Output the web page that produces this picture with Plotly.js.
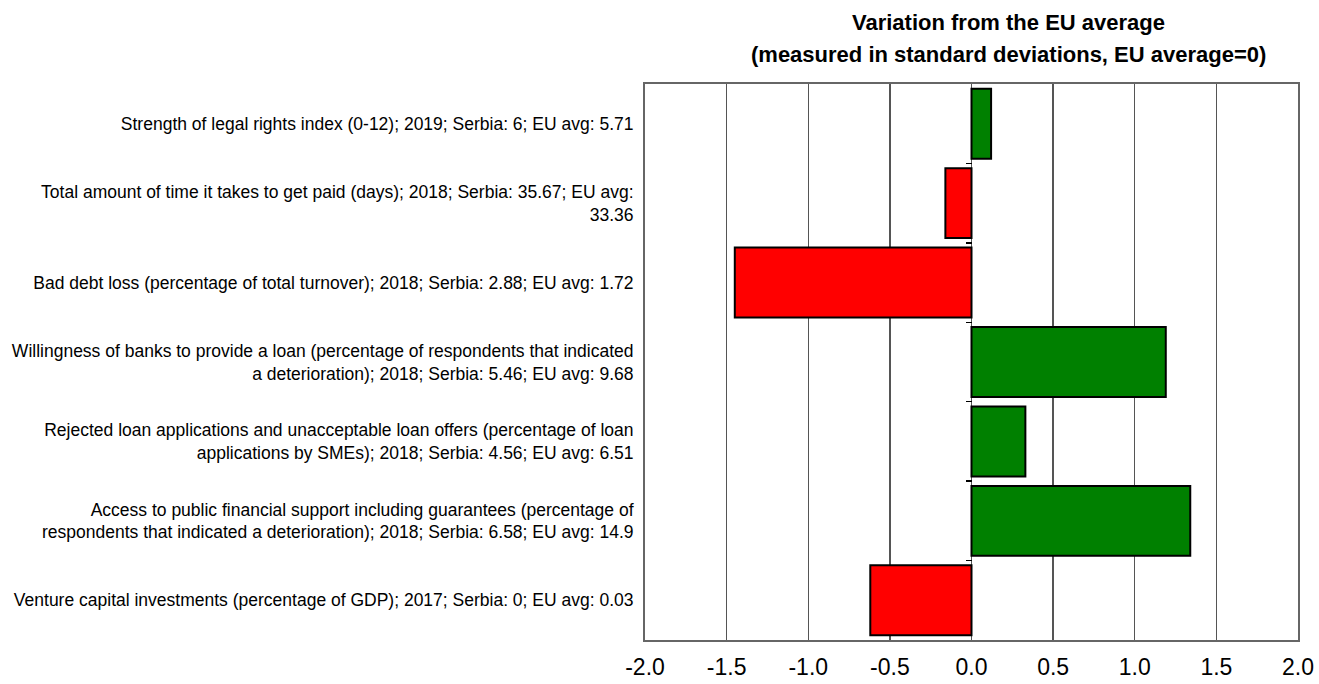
<!DOCTYPE html>
<html>
<head>
<meta charset="utf-8">
<script src="https://cdn.plot.ly/plotly-3.0.1.min.js"></script>
<style>
  html, body { margin: 0; padding: 0; background: #ffffff; }
  #chart { width: 1319px; height: 684px; }
</style>
</head>
<body>
<div id="chart"></div>
<script>
// ---- Data ----
const titleLines = [
  "Variation from the EU average",
  "(measured in standard deviations, EU average=0)"
];
const indicators = [
  "Strength of legal rights index (0-12); 2019; Serbia: 6; EU avg: 5.71",
  "Total amount of time it takes to get paid (days); 2018; Serbia: 35.67; EU avg:<br>33.36",
  "Bad debt loss (percentage of total turnover); 2018; Serbia: 2.88; EU avg: 1.72",
  "Willingness of banks to provide a loan (percentage of respondents that indicated<br>a deterioration); 2018; Serbia: 5.46; EU avg: 9.68",
  "Rejected loan applications and unacceptable loan offers (percentage of loan<br>applications by SMEs); 2018; Serbia: 4.56; EU avg: 6.51",
  "Access to public financial support including guarantees (percentage of<br>respondents that indicated a deterioration); 2018; Serbia: 6.58; EU avg: 14.9",
  "Venture capital investments (percentage of GDP); 2017; Serbia: 0; EU avg: 0.03"
];
const deviations = [0.12, -0.16, -1.45, 1.19, 0.33, 1.34, -0.62];
const xTickValues = [-2.0, -1.5, -1.0, -0.5, 0.0, 0.5, 1.0, 1.5, 2.0];
const xTickLabels = ["-2.0", "-1.5", "-1.0", "-0.5", "0.0", "0.5", "1.0", "1.5", "2.0"];
const boundaryTicks = [0.5, 1.5, 2.5, 3.5, 4.5, 5.5];

const barColors = deviations.map(v => v >= 0 ? "#008000" : "#FF0000");

const trace = {
  type: "bar",
  orientation: "h",
  y: indicators,
  x: deviations,
  marker: { color: barColors, line: { color: "#000000", width: 2 } },
  hoverinfo: "x+y",
  cliponaxis: false
};

// invisible trace to hold the secondary (zero-line tick) axis
const helper = {
  type: "scatter",
  mode: "markers",
  x: [0],
  y: [3],
  yaxis: "y2",
  marker: { opacity: 0, size: 1 },
  hoverinfo: "skip",
  showlegend: false
};

const titleFont = { family: "Liberation Sans, Arial, sans-serif", size: 22, color: "#000000" };

const layout = {
  width: 1319,
  height: 684,
  margin: { l: 645, r: 21, t: 84, b: 44, pad: 0 },
  paper_bgcolor: "#ffffff",
  plot_bgcolor: "#ffffff",
  showlegend: false,
  bargap: 0.12,
  annotations: [
    { text: "<b>" + titleLines[0] + "</b>", xref: "paper", yref: "paper", x: 0.557, y: 1.1115,
      xanchor: "center", yanchor: "middle", showarrow: false, font: titleFont },
    { text: "<b>" + titleLines[1] + "</b>", xref: "paper", yref: "paper", x: 0.557, y: 1.0522,
      xanchor: "center", yanchor: "middle", showarrow: false, font: titleFont }
  ],
  xaxis: {
    range: [-2, 2],
    tickvals: xTickValues,
    ticktext: xTickLabels,
    showgrid: true,
    gridcolor: "#555555",
    gridwidth: 1.3,
    zeroline: true,
    zerolinecolor: "#555555",
    zerolinewidth: 1.3,
    showline: true,
    linecolor: "#666666",
    linewidth: 2,
    mirror: true,
    ticks: "",
    ticklabelstandoff: 5,
    tickfont: { family: "Liberation Sans, Arial, sans-serif", size: 23, color: "#000000" },
    fixedrange: true
  },
  yaxis: {
    type: "category",
    autorange: "reversed",
    showgrid: false,
    zeroline: false,
    showline: true,
    linecolor: "#666666",
    linewidth: 2,
    mirror: true,
    ticks: "",
    ticklabelstandoff: 6,
    tickfont: { family: "Liberation Sans, Arial, sans-serif", size: 17.5, color: "#000000" },
    fixedrange: true
  },
  yaxis2: {
    overlaying: "y",
    anchor: "free",
    position: 0.5,
    side: "left",
    range: [6.5, -0.5],
    tickvals: boundaryTicks,
    showticklabels: false,
    ticks: "outside",
    ticklen: 6,
    tickwidth: 1.5,
    tickcolor: "#000000",
    showgrid: false,
    zeroline: false,
    showline: false,
    fixedrange: true
  }
};

Plotly.newPlot("chart", [trace, helper], layout, { displayModeBar: false, staticPlot: true });
</script>
</body>
</html>
